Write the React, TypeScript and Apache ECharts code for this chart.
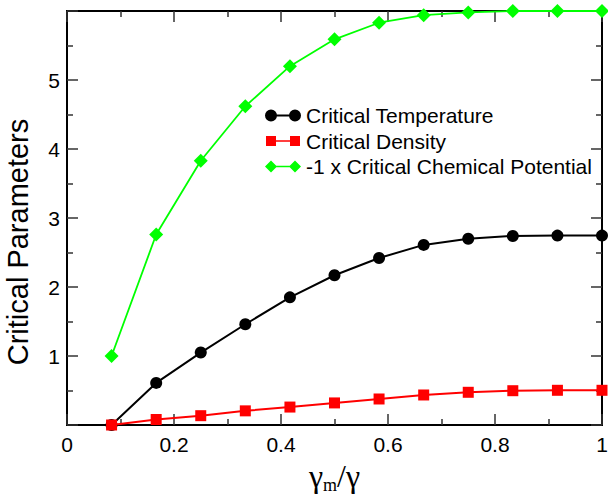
import React, { useEffect, useRef } from "react";
import * as echarts from "echarts";

const xValues = [0.0833, 0.1667, 0.25, 0.3333, 0.4167, 0.5, 0.5833, 0.6667, 0.75, 0.8333, 0.9167, 1.0];
const temperature = [0.0, 0.61, 1.05, 1.46, 1.85, 2.17, 2.42, 2.61, 2.7, 2.74, 2.745, 2.745];
const density = [0.0, 0.08, 0.135, 0.205, 0.26, 0.32, 0.377, 0.435, 0.474, 0.497, 0.503, 0.503];
const chemPotential = [1.0, 2.76, 3.83, 4.62, 5.2, 5.59, 5.83, 5.94, 5.98, 6.0, 6.0, 6.0];
const seriesNames = ["Critical Temperature", "Critical Density", "-1 x Critical Chemical Potential"];
const xTicks = [0, 0.2, 0.4, 0.6, 0.8, 1];
const yTicks = [1, 2, 3, 4, 5];

const ICON_CIRCLE =
  "path://M0 6A6 6 0 1 1 12 6A6 6 0 1 1 0 6ZM24 6A6 6 0 1 1 36 6A6 6 0 1 1 24 6ZM6 5.1L30 5.1L30 6.9L6 6.9Z";
const ICON_SQUARE =
  "path://M1 1L11 1L11 11L1 11ZM25 1L35 1L35 11L25 11ZM6 5.2L30 5.2L30 6.8L6 6.8ZM0 6L0.01 6L0.01 6.01ZM36 0L35.99 0L36 0.01ZM0 12L0.01 12L0 11.99Z";
const ICON_DIAMOND =
  "path://M6 0L12 6L6 12L0 6ZM30 0L36 6L30 12L24 6ZM6 5.2L30 5.2L30 6.8L6 6.8Z";

const FONT = "Liberation Sans, Arial, Helvetica, sans-serif";
const SERIF = "Liberation Serif, Times New Roman, serif";

function pairs(ys: number[]) {
  return xValues.map((x, i) => [x, ys[i]]);
}

export default function App() {
  const ref = useRef<HTMLDivElement>(null);
  useEffect(() => {
    document.body.style.margin = "0";
    const chart = echarts.init(ref.current!, null, { renderer: "svg" });
    const mkLine = () => ({ show: true, onZero: false, lineStyle: { color: "#000", width: 2 } });
    const mkTick = () => ({ show: true, inside: true, length: 11, lineStyle: { color: "#333", width: 1.5 } });
    const mkMinor = () => ({ show: true, splitNumber: 2, length: 6, lineStyle: { color: "#333", width: 1.5 } });
    const xBase = () => ({
      type: "value" as const,
      min: 0,
      max: 1,
      interval: 0.2,
      axisLine: mkLine(),
      axisTick: mkTick(),
      minorTick: mkMinor(),
      splitLine: { show: false },
    });
    const yBase = () => ({
      type: "value" as const,
      min: 0,
      max: 6,
      interval: 1,
      axisLine: mkLine(),
      axisTick: mkTick(),
      minorTick: mkMinor(),
      splitLine: { show: false },
    });
    chart.setOption({
      animation: false,
      backgroundColor: "#fff",
      grid: {
        left: 67,
        right: 6,
        top: 11,
        bottom: 70,
        containLabel: false,
        outerBoundsMode: "none",
        show: true,
        borderColor: "#000",
        borderWidth: 2,
        backgroundColor: "transparent",
      },
      legend: {
        orient: "vertical",
        left: 260,
        top: 100,
        itemWidth: 36,
        itemHeight: 12,
        itemGap: 4.5,
        textStyle: { fontSize: 21, fontFamily: FONT, color: "#000" },
        data: [
          { name: seriesNames[0], icon: ICON_CIRCLE },
          { name: seriesNames[1], icon: ICON_SQUARE },
          { name: seriesNames[2], icon: ICON_DIAMOND },
        ],
      },
      xAxis: [
        {
          ...xBase(),
          position: "bottom",
          name: "{a|γ}{b|m}{a|/γ}",
          nameLocation: "middle",
          nameGap: 26,
          nameTextStyle: {
            rich: {
              a: { fontSize: 32, fontFamily: SERIF, color: "#000", lineHeight: 36 },
              b: { fontSize: 18, fontFamily: SERIF, color: "#000", lineHeight: 6, verticalAlign: "bottom" },
            },
          },
          axisLabel: {
            show: true,
            fontSize: 21,
            fontFamily: FONT,
            color: "#000",
            margin: 9,
            formatter: (v: number) => {
              const hit = xTicks.find((t) => Math.abs(t - v) < 1e-9);
              return hit === undefined ? "" : String(hit);
            },
          },
        },
        { ...xBase(), position: "top", axisLabel: { show: false } },
      ],
      yAxis: [
        {
          ...yBase(),
          position: "left",
          name: "Critical Parameters",
          nameLocation: "middle",
          nameGap: 35,
          nameTextStyle: { fontSize: 29, fontFamily: FONT, color: "#000", padding: [0, 48, 0, 0] },
          axisLabel: {
            show: true,
            fontSize: 21,
            fontFamily: FONT,
            color: "#000",
            margin: 7,
            formatter: (v: number) => (yTicks.includes(v) ? String(v) : ""),
          },
        },
        { ...yBase(), position: "right", axisLabel: { show: false } },
      ],
      series: [
        {
          name: seriesNames[0],
          type: "line",
          data: pairs(temperature),
          symbol: "circle",
          symbolSize: 12,
          clip: false,
          color: "#000",
          lineStyle: { color: "#000", width: 2 },
          itemStyle: { color: "#000" },
          z: 2,
        },
        {
          name: seriesNames[1],
          type: "line",
          data: pairs(density),
          symbol: "rect",
          symbolSize: 11,
          clip: false,
          color: "#ff0000",
          lineStyle: { color: "#ff0000", width: 2 },
          itemStyle: { color: "#ff0000" },
          z: 3,
        },
        {
          name: seriesNames[2],
          type: "line",
          data: pairs(chemPotential),
          symbol: "diamond",
          symbolSize: 14,
          clip: false,
          color: "#00ff00",
          lineStyle: { color: "#00ff00", width: 1.8 },
          itemStyle: { color: "#00ff00" },
          z: 4,
        },
      ],
    });
    return () => chart.dispose();
  }, []);
  return <div ref={ref} style={{ width: 608, height: 495 }} />;
}
